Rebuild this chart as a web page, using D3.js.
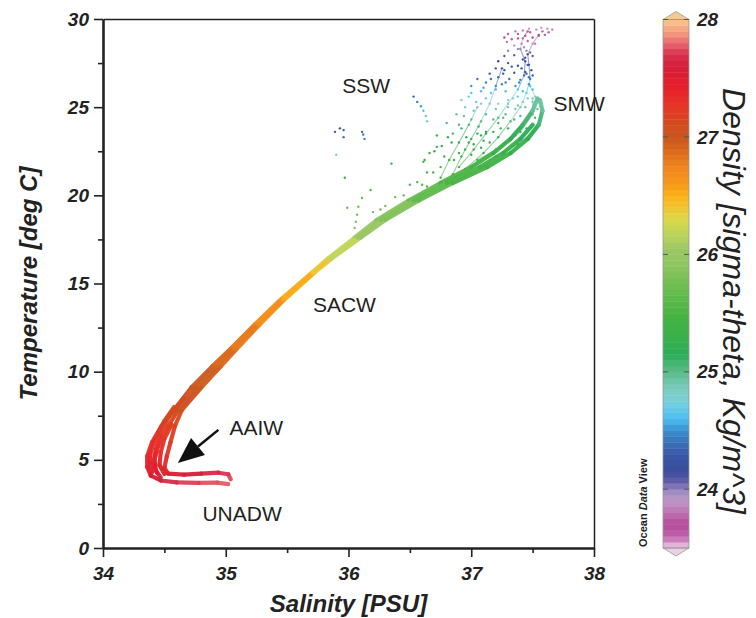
<!DOCTYPE html>
<html>
<head>
<meta charset="utf-8">
<script src="https://cdn.jsdelivr.net/npm/d3@7/dist/d3.min.js"></script>
<style>
body { margin: 0; background: #fff; }
svg { display: block; }
text { font-family: "Liberation Sans", Arial, sans-serif; }
</style>
</head>
<body>
<svg id="tsPlot" width="756" height="618"></svg>
<script>
// T-S diagram, coloured by potential density (sigma-theta)
// each point: [salinity, temperature, sigma]

const profileA = [[35.04,3.90,27.76],[35.02,4.18,27.73],[34.94,4.27,27.69],[34.80,4.22,27.63],[34.66,4.16,27.57],[34.53,4.22,27.47],[34.50,4.55,27.40],[34.52,5.2,27.32],[34.55,6.0,27.25],[34.585,6.9,27.17],[34.64,7.8,27.1],[34.80,9.1,27.0],[34.96,10.3,26.92],[35.09,11.3,26.85],[35.28,12.7,26.74],[35.48,14.1,26.6],[35.72,15.6,26.44],[35.86,16.4,26.3],[36.10,17.6,26.08],[36.30,18.6,25.92],[36.57,19.7,25.74],[36.85,20.7,25.56],[37.13,21.6,25.43],[37.32,22.4,25.33],[37.46,23.2,25.23],[37.55,24.0,25.12],[37.58,24.8,25.0],[37.56,25.4,24.88]];

const profileB = [[35.02,3.62,27.78],[34.93,3.71,27.77],[34.78,3.69,27.75],[34.60,3.72,27.71],[34.47,3.83,27.65],[34.39,4.1,27.55],[34.36,4.6,27.46],[34.36,5.2,27.38],[34.40,6.0,27.3],[34.475,6.9,27.2],[34.575,7.8,27.12],[34.72,9.1,27.02],[34.89,10.3,26.94],[35.04,11.3,26.86],[35.24,12.7,26.75],[35.45,14.1,26.6],[35.70,15.6,26.45],[35.83,16.4,26.32],[36.05,17.6,26.1],[36.23,18.6,25.95],[36.49,19.7,25.76],[36.75,20.7,25.6],[37.0,21.6,25.46],[37.18,22.4,25.36],[37.32,23.2,25.25],[37.42,24.0,25.15],[37.50,24.8,25.02],[37.54,25.5,24.9]];

const profileC = [[34.47,4.0,27.58],[34.43,4.4,27.5],[34.42,5.0,27.42],[34.45,5.8,27.32],[34.53,6.9,27.2],[34.61,7.8,27.11],[34.76,9.1,27.01],[34.925,10.3,26.93],[35.065,11.3,26.85],[35.26,12.7,26.75],[35.465,14.1,26.6],[35.71,15.6,26.45],[35.845,16.4,26.31],[36.075,17.6,26.09],[36.265,18.6,25.94],[36.53,19.7,25.75],[36.80,20.7,25.58],[37.07,21.6,25.45],[37.26,22.4,25.35],[37.40,23.2,25.24],[37.50,24.0,25.13]];

const profileD = [[34.40,4.3,27.55],[34.38,4.9,27.45],[34.39,5.5,27.38],[34.43,6.3,27.28],[34.50,7.2,27.18],[34.58,8.0,27.1]];
const profileE = [[34.50,4.2,27.52],[34.46,4.7,27.44],[34.47,5.4,27.36],[34.50,6.2,27.28],[34.56,7.0,27.18]];
const profileF = [[34.44,4.25,27.54],[34.41,4.8,27.45],[34.43,5.6,27.35],[34.47,6.5,27.25],[34.53,7.4,27.15],[34.66,8.5,27.06]];

const fan1 = [[36.95,21.5,25.45],[37.10,22.4,25.3],[37.22,23.3,25.18],[37.32,24.2,25.02],[37.40,25.0,24.85],[37.45,25.8,24.7],[37.48,26.6,24.45],[37.47,27.4,24.25],[37.46,28.0,24.1],[37.50,28.6,23.9],[37.55,29.1,23.7]];
const fan2 = [[36.90,21.6,25.45],[37.02,22.6,25.3],[37.12,23.5,25.15],[37.22,24.4,25.0],[37.30,25.2,24.85],[37.38,26.0,24.65],[37.43,26.8,24.4],[37.44,27.6,24.2],[37.40,28.3,24.0],[37.42,28.9,23.8],[37.46,29.3,23.65]];
const fan3 = [[37.20,22.2,25.35],[37.38,22.9,25.25],[37.50,23.6,25.15],[37.56,24.3,25.05],[37.57,25.0,24.95],[37.52,25.6,24.8],[37.48,26.2,24.65]];
const fan4 = [[37.05,22.0,25.4],[37.25,22.8,25.3],[37.40,23.6,25.18],[37.50,24.6,25.02],[37.50,25.5,24.85]];
const fan5 = [[36.85,21.2,25.5],[36.92,22.2,25.35],[37.00,23.2,25.2],[37.08,24.2,25.0],[37.15,25.2,24.8],[37.20,26.2,24.5],[37.25,27.2,24.3]];
const fan6 = [[36.75,21.0,25.52],[36.82,22.0,25.4],[36.90,23.0,25.25],[36.98,24.0,25.05],[37.05,25.0,24.85]];

const warmScatter = [
  [37.30,29.15,23.6],[37.36,29.3,23.58],[37.42,29.35,23.57],[37.48,29.25,23.6],[37.53,29.4,23.57],[37.58,29.3,23.6],[37.63,29.25,23.6],[37.66,29.4,23.58],[37.60,29.1,23.65],[37.55,29.05,23.67],[37.50,28.95,23.7],[37.44,29.05,23.66],[37.38,28.9,23.72],[37.33,28.85,23.75],[37.46,28.75,23.78],[37.41,28.6,23.85],[37.52,28.6,23.85],[37.35,28.5,23.9],[37.29,28.7,23.82],
  [37.38,29.15,23.62],[37.47,29.45,23.55],[37.57,29.5,23.55],[37.62,29.45,23.56],[37.27,28.95,23.72],[37.43,28.4,23.93],
  [37.30,28.2,24.0],[37.38,28.3,23.97],[37.45,28.2,24.0],[37.27,27.9,24.07],[37.35,27.95,24.07],[37.50,27.9,24.08],[37.42,27.7,24.12],[37.44,27.8,24.1],[37.48,28.1,24.03],
  [37.22,27.6,24.18],[37.30,27.5,24.2],[37.38,27.35,24.22],[37.46,27.4,24.2],[37.20,27.2,24.25],[37.27,27.1,24.27],[37.35,26.95,24.3],[37.44,27.0,24.3],[37.49,27.1,24.28],[37.15,26.9,24.32],[37.22,26.7,24.37],[37.31,26.6,24.4],[37.40,26.55,24.42],[37.47,26.7,24.38],[37.12,26.4,24.45],[37.25,26.3,24.48],[37.36,26.2,24.52],[37.47,26.3,24.5],
  [37.26,26.9,24.3],[37.33,27.3,24.22],[37.41,27.2,24.25],[37.45,26.9,24.32],[37.50,26.8,24.35],[37.39,26.4,24.47],[37.28,26.4,24.47],[37.20,26.0,24.58],
  [37.05,26.6,24.42],[37.00,26.2,24.52],[37.08,25.9,24.6],[36.98,25.6,24.67],[37.04,25.3,24.75],[37.12,25.5,24.7],[36.95,25.0,24.82],
  [36.92,25.4,24.75],[37.0,25.8,24.64],[37.10,26.1,24.55],[37.16,26.6,24.42],
  [37.42,25.9,24.62],[37.50,26.0,24.62],[37.38,25.6,24.7],[37.46,25.5,24.73],[37.30,25.4,24.75],[37.22,25.2,24.8],[37.16,25.8,24.65],[37.28,25.9,24.62],
  [36.88,24.6,24.95],[36.80,24.1,25.02],[36.92,23.8,25.08],[36.72,23.4,25.14],[36.84,23.0,25.2],[37.00,24.3,25.0],[36.96,23.3,25.15],[37.06,23.9,25.08],[37.12,24.6,24.98],[37.20,24.9,24.9],[37.28,24.6,24.96],[37.36,24.9,24.9],[37.10,23.1,25.2],[37.24,23.8,25.1],[36.70,22.5,25.28],[36.78,22.2,25.32],[36.62,22.0,25.32],
  [36.95,22.6,25.3],[37.02,22.9,25.27],[37.08,23.4,25.2],[37.15,23.0,25.26],[37.18,23.6,25.17],[37.22,24.1,25.08],[37.30,23.8,25.12],[37.35,24.3,25.05],[37.40,24.5,25.02],[37.44,25.0,24.93],[37.38,25.1,24.9],[37.30,25.0,24.9],[37.26,24.4,25.0],[37.18,24.3,25.02],[37.12,23.6,25.15],[37.05,23.5,25.17],[36.98,23.0,25.24],[36.90,22.4,25.32],[36.86,22.0,25.37],[37.0,22.3,25.33],[37.08,22.7,25.29],[37.20,22.6,25.3],[37.28,23.0,25.26],[37.36,23.4,25.2],[37.45,23.8,25.14],[37.52,24.4,25.05],[37.54,24.9,24.97],[37.50,25.3,24.9],[37.42,25.3,24.85],[37.34,25.5,24.8],
  [36.90,24.0,25.03],[36.94,24.5,24.96],[37.02,24.8,24.9],[37.08,25.2,24.82],[36.85,23.5,25.1],[36.76,22.8,25.22]
];

const strayPoints = [
  [35.89,23.6,24.3],[35.93,23.8,24.25],[35.96,23.7,24.3],[35.96,23.3,24.4],[36.11,23.6,24.35],[36.12,23.45,24.42],[36.13,23.2,24.5],[35.90,22.3,24.75],
  [36.53,25.6,24.35],[36.56,25.3,24.45],[36.59,25.05,24.52],[36.61,24.8,24.6],[36.63,24.5,24.68],[36.64,24.2,24.78],
  [35.97,21.0,25.35],[36.35,21.8,25.28],[36.18,20.3,25.55],[36.11,19.85,25.65],[36.08,19.35,25.72],[35.99,19.3,25.72],[36.07,18.9,25.8],[36.06,18.5,25.85],[36.05,18.15,25.88],[36.20,19.05,25.75],[36.26,19.2,25.73],[36.50,20.6,25.55],[36.56,20.75,25.52],[36.60,20.6,25.54],[36.64,20.5,25.55],[36.61,21.9,25.35],[36.64,21.3,25.42],[36.69,21.3,25.42],[36.75,21.6,25.4],[36.66,22.4,25.3],[36.72,22.75,25.25],[36.81,23.3,25.15],[36.45,20.0,25.65],[36.30,19.4,25.75],[36.38,19.9,25.68]
];

const mainProfiles = [profileA, profileB, profileC, profileD, profileE, profileF];
const fanProfiles = [fan1, fan2, fan3, fan4, fan5, fan6];

// density colour bar (ODV style)
const sigmaStops = [23.5,23.55,23.6,23.7,23.8,23.9,24.0,24.05,24.15,24.3,24.4,24.5,24.6,24.7,24.8,24.9,25.0,25.15,25.3,25.5,25.7,25.9,26.05,26.2,26.3,26.4,26.5,26.6,26.75,26.9,27.0,27.15,27.3,27.45,27.6,27.7,27.8,27.9,28.0];
const sigmaColors = ["#ecd0e6","#d898c8","#c060a8","#b44c9c","#c070b0","#c098c8","#9488c0","#6a62a8","#3a4c9c","#3a58a8","#3a72b8","#3a8ed0","#4cbdf0","#6ccce8","#80d0cc","#74c8b0","#5cbc8a","#2aac58","#38b04a","#48b443","#68bc50","#8ec460","#9cc864","#c2d65a","#dcd848","#f0c430","#fbb31a","#f7981a","#ee841c","#d9661c","#c8561e","#d8461f","#e8302a","#e31e2a","#d41f3a","#d83050","#ea6a70","#f4a080","#f8c890"];
const colorTicks = [24, 25, 26, 27, 28];

const salTicks = [34, 35, 36, 37, 38];
const salMinor = [34.5, 35.5, 36.5, 37.5];
const tempTicks = [0, 5, 10, 15, 20, 25, 30];
const tempMinor = [2.5, 7.5, 12.5, 17.5, 22.5, 27.5];

const waterMasses = [
  {name: "SSW", s: 35.95, t: 25.8},
  {name: "SMW", s: 37.67, t: 24.8},
  {name: "SACW", s: 35.71, t: 13.4},
  {name: "AAIW", s: 35.03, t: 6.4},
  {name: "UNADW", s: 34.81, t: 1.53}
];

const margin = {top: 19, left: 103},
    plotW = 491,
    plotH = 529;

const svg = d3.select("#tsPlot");
const g = svg.append("g").attr("transform", `translate(${margin.left},${margin.top})`);

const x = d3.scaleLinear().domain([34, 38]).range([0, plotW]);
const y = d3.scaleLinear().domain([0, 30]).range([plotH, 0]);
const color = d3.scaleLinear().domain(sigmaStops).range(sigmaColors).clamp(true);

// profiles as coloured segments
function drawProfiles(profiles, sw, op) {
  profiles.forEach(p => {
    g.append("g").selectAll("line").data(d3.pairs(p)).join("line")
      .attr("x1", d => x(d[0][0])).attr("y1", d => y(d[0][1]))
      .attr("x2", d => x(d[1][0])).attr("y2", d => y(d[1][1]))
      .attr("stroke", d => color((d[0][2] + d[1][2]) / 2))
      .attr("stroke-width", sw)
      .attr("stroke-linecap", "round")
      .attr("opacity", op);
  });
}
drawProfiles(fanProfiles, 1.1, 0.55);
drawProfiles(mainProfiles, 4.2, 0.95);

g.append("g").selectAll("circle").data(warmScatter.concat(strayPoints, ...fanProfiles)).join("circle")
  .attr("cx", d => x(d[0])).attr("cy", d => y(d[1]))
  .attr("r", 1.2)
  .attr("fill", d => color(d[2]));

// frame: top and right from axes without ticks
g.append("g").attr("class", "frame")
  .call(d3.axisTop(x).tickValues([]).tickSizeOuter(0));
g.append("g").attr("class", "frame").attr("transform", `translate(${plotW},0)`)
  .call(d3.axisRight(y).tickValues([]).tickSizeOuter(0));
g.selectAll(".frame .domain").attr("stroke", "#222").attr("stroke-width", 1.5);

// minor ticks
g.append("g").attr("class", "minor").attr("transform", `translate(0,${plotH})`)
  .call(d3.axisBottom(x).tickValues(salMinor).tickSize(5).tickFormat(""));
g.append("g").attr("class", "minor")
  .call(d3.axisLeft(y).tickValues(tempMinor).tickSize(5).tickFormat(""));
g.selectAll(".minor .domain").remove();

// main axes
g.append("g").attr("class", "axis").attr("transform", `translate(0,${plotH})`)
  .call(d3.axisBottom(x).tickValues(salTicks).tickSize(9).tickSizeOuter(0).tickPadding(10).tickFormat(d3.format("d")));
g.append("g").attr("class", "axis")
  .call(d3.axisLeft(y).tickValues(tempTicks).tickSize(9).tickSizeOuter(0).tickPadding(5).tickFormat(d3.format("d")));
g.selectAll(".axis .domain").attr("stroke", "#222").attr("stroke-width", 2.6);

g.selectAll(".tick line").attr("stroke", "#222").attr("stroke-width", 1.6);
g.selectAll(".tick text").attr("font-size", 19).attr("font-weight", "bold")
  .attr("font-style", "italic").attr("fill", "#222")
  .attr("font-family", "'Liberation Sans', Arial, sans-serif");

// water mass labels
g.selectAll(".wm").data(waterMasses).join("text").attr("class", "wm")
  .attr("x", d => x(d.s)).attr("y", d => y(d.t))
  .attr("font-size", 21).attr("fill", "#231f20")
  .text(d => d.name);

// AAIW arrow
const a0 = [x(34.94), y(6.7)], a1 = [x(34.61), y(4.82)];
const ang = Math.atan2(a1[1] - a0[1], a1[0] - a0[0]);
const headLen = 26, headHalf = 11;
const base = [a1[0] - headLen * Math.cos(ang), a1[1] - headLen * Math.sin(ang)];
g.append("line").attr("x1", a0[0]).attr("y1", a0[1]).attr("x2", base[0]).attr("y2", base[1])
  .attr("stroke", "#111").attr("stroke-width", 2.5);
g.append("path")
  .attr("d", `M${a1[0]},${a1[1]}L${base[0] + headHalf * Math.sin(ang)},${base[1] - headHalf * Math.cos(ang)}L${base[0] - headHalf * Math.sin(ang)},${base[1] + headHalf * Math.cos(ang)}Z`)
  .attr("fill", "#111");

// axis titles
svg.append("text").attr("x", margin.left + plotW / 2).attr("y", 612)
  .attr("text-anchor", "middle").attr("font-size", 24).attr("font-weight", "bold")
  .attr("font-style", "italic").attr("fill", "#222").text("Salinity [PSU]");
svg.append("text").attr("transform", `translate(37,${margin.top + plotH / 2}) rotate(-90)`)
  .attr("text-anchor", "middle").attr("font-size", 24).attr("font-weight", "bold")
  .attr("font-style", "italic").attr("fill", "#222").text("Temperature [deg C]");

// Ocean Data View mark
const odv = svg.append("text").attr("transform", "translate(647,547) rotate(-90)")
  .attr("font-size", 11).attr("font-weight", "bold").attr("fill", "#222");
odv.append("tspan").text("Ocean ");
odv.append("tspan").attr("font-style", "italic").text("Data");
odv.append("tspan").text(" View");

// colour bar
const cb = {x: 663, w: 26};
const cy = d3.scaleLinear().domain([23.5, 28]).range([548, 19.5]);
const steps = d3.range(23.5, 28, 0.05);
svg.append("g").selectAll("rect").data(steps).join("rect")
  .attr("x", cb.x).attr("width", cb.w)
  .attr("y", d => cy(d + 0.05)).attr("height", d => cy(d) - cy(d + 0.05) + 0.4)
  .attr("fill", d => color(d + 0.025));
svg.append("path").attr("d", `M${cb.x},${cy(28)}L${cb.x + cb.w / 2},${cy(28) - 8}L${cb.x + cb.w},${cy(28)}Z`)
  .attr("fill", color(28)).attr("stroke", "#999").attr("stroke-width", 0.8);
svg.append("path").attr("d", `M${cb.x},${cy(23.5)}L${cb.x + cb.w / 2},${cy(23.5) + 8}L${cb.x + cb.w},${cy(23.5)}Z`)
  .attr("fill", color(23.5)).attr("stroke", "#999").attr("stroke-width", 0.8);
svg.append("rect").attr("x", cb.x).attr("y", cy(28)).attr("width", cb.w).attr("height", cy(23.5) - cy(28))
  .attr("fill", "none").attr("stroke", "#999").attr("stroke-width", 0.8);

const cbTicks = svg.append("g").selectAll("g").data(colorTicks).join("g");
cbTicks.append("line").attr("x1", cb.x).attr("x2", cb.x + 5).attr("y1", d => cy(d)).attr("y2", d => cy(d))
  .attr("stroke", "#555").attr("stroke-width", 1);
cbTicks.append("line").attr("x1", cb.x + cb.w - 5).attr("x2", cb.x + cb.w).attr("y1", d => cy(d)).attr("y2", d => cy(d))
  .attr("stroke", "#555").attr("stroke-width", 1);
cbTicks.append("text").attr("x", 697).attr("y", d => cy(d)).attr("dy", "0.35em")
  .attr("font-size", 19).attr("font-weight", "bold").attr("font-style", "italic").attr("fill", "#222")
  .text(d => d);

svg.append("text").attr("transform", "translate(723,301) rotate(90)")
  .attr("text-anchor", "middle").attr("font-size", 32).attr("font-style", "italic").attr("fill", "#222")
  .text("Density [sigma-theta, Kg/m^3]");
</script>
</body>
</html>
